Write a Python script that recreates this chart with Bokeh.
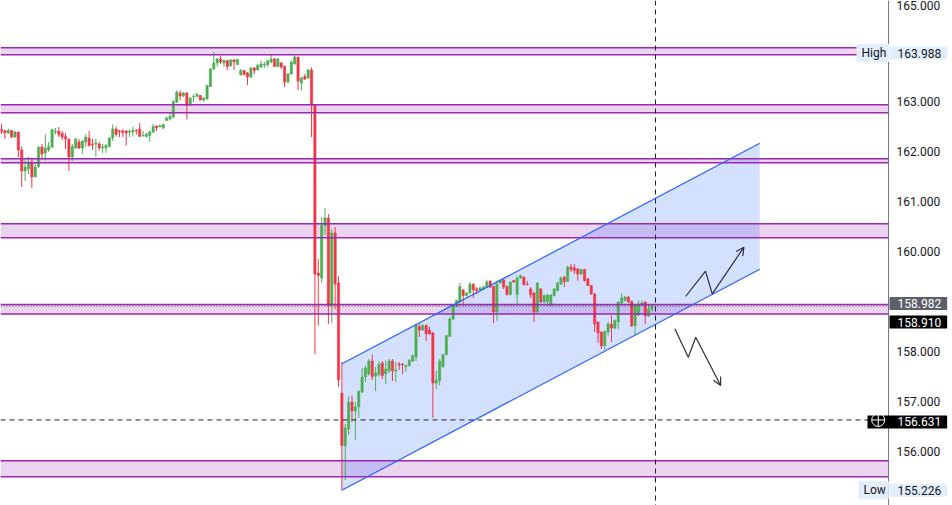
from bokeh.plotting import figure
from bokeh.models import Range1d, NumeralTickFormatter, FixedTicker, Label, Arrow, OpenHead, ColumnDataSource
from bokeh.embed import file_html
from bokeh.resources import INLINE

# ---------------- data ----------------
opens = [162.44,162.42,162.37,162.42,162.29,162.39,162.03,161.61,161.65,161.79,161.49,161.70,162.09,161.97,162.03,162.09,162.39,162.40,162.36,162.30,
         162.25,161.89,162.07,162.19,162.07,162.19,162.27,162.15,162.15,162.15,162.07,162.07,162.10,162.27,162.45,162.42,162.41,162.41,162.39,162.39,
         162.42,162.45,162.31,162.30,162.32,162.39,162.51,162.49,162.47,162.62,162.65,162.69,162.99,163.17,163.11,163.17,162.93,163.09,163.10,163.12,
         163.03,163.05,163.30,163.65,163.77,163.85,163.77,163.82,163.72,163.83,163.74,163.53,163.62,163.57,163.49,163.67,163.63,163.69,163.73,163.74,
         163.79,163.85,163.70,163.77,163.70,163.39,163.55,163.75,163.89,163.37,163.50,163.47,163.63,162.94,159.57,159.47,160.52,160.67,158.92,160.37,
         159.37,157.17,156.12,156.45,156.99,156.81,156.89,157.19,157.49,157.55,157.81,157.51,157.54,157.77,157.55,157.62,157.81,157.61,157.75,157.75,
         157.70,157.72,157.81,157.89,158.50,158.43,158.52,158.43,158.37,157.37,157.42,157.70,157.94,158.30,158.65,158.90,158.99,159.23,159.12,159.17,
         159.34,159.25,159.23,159.25,159.29,159.41,159.30,158.79,159.37,159.43,159.30,159.14,159.42,159.14,159.47,159.49,159.35,159.25,159.17,158.79,
         159.25,158.99,159.00,158.92,159.12,159.22,159.35,159.49,159.40,159.69,159.67,159.65,159.55,159.64,159.45,159.32,159.15,158.59,158.39,158.12,
         158.39,158.55,158.47,158.59,158.97,159.02,159.09,159.00,158.52,158.73,158.93,158.99,158.71,158.85]
highs = [162.55,162.42,162.45,162.43,162.41,162.39,162.10,161.82,161.89,161.85,161.77,162.10,162.15,162.34,162.19,162.45,162.47,162.49,162.41,162.37,
         162.25,162.15,162.27,162.25,162.23,162.34,162.41,162.25,162.25,162.19,162.15,162.15,162.29,162.54,162.50,162.43,162.45,162.43,162.44,162.50,
         162.45,162.57,162.41,162.37,162.42,162.55,162.52,162.54,162.56,162.70,162.79,163.02,163.22,163.22,163.19,163.19,163.09,163.15,163.17,163.13,
         163.09,163.33,163.67,163.988,163.87,163.92,163.84,163.83,163.85,163.85,163.85,163.65,163.63,163.59,163.69,163.69,163.75,163.82,163.79,163.83,
         163.94,163.87,163.87,163.79,163.72,163.57,163.82,163.92,163.89,163.50,163.55,163.65,163.68,162.94,159.85,160.69,160.87,160.75,160.45,160.49,
         159.50,157.79,156.55,157.10,157.12,156.99,157.23,157.67,157.72,157.85,157.94,157.69,157.81,157.81,157.82,157.85,157.85,157.79,157.79,157.77,
         157.74,157.85,157.94,158.55,158.55,158.55,158.54,158.50,158.39,157.62,157.85,157.95,158.33,158.69,158.95,159.03,159.37,159.25,159.19,159.39,
         159.37,159.29,159.30,159.32,159.43,159.42,159.32,159.42,159.45,159.45,159.32,159.41,159.43,159.50,159.54,159.50,159.41,159.29,159.19,159.39,
         159.27,159.14,159.15,159.15,159.27,159.40,159.50,159.51,159.72,159.75,159.75,159.67,159.65,159.65,159.47,159.33,159.17,158.60,158.40,158.42,
         158.59,158.72,158.64,159.00,159.17,159.11,159.11,159.02,158.93,159.02,159.02,159.00,158.95,158.92]
lows = [162.35,162.25,162.35,162.27,162.27,161.89,161.29,161.41,161.55,161.27,161.49,161.67,161.85,161.82,161.99,162.07,162.34,162.29,162.23,162.05,
        161.61,161.81,162.05,162.05,161.95,162.09,162.10,162.03,161.89,162.02,161.97,161.97,162.09,162.21,162.30,162.29,162.29,162.12,162.29,162.30,
        162.34,162.30,162.30,162.29,162.19,162.37,162.41,162.49,162.45,162.62,162.62,162.67,162.97,163.02,163.09,162.64,162.92,162.99,163.09,163.02,
        162.99,163.04,163.29,163.63,163.70,163.75,163.70,163.63,163.69,163.63,163.73,163.52,163.52,163.33,163.47,163.55,163.62,163.67,163.67,163.69,
        163.77,163.69,163.69,163.65,163.29,163.37,163.54,163.74,163.23,163.22,163.43,163.45,162.29,157.95,158.52,159.37,160.33,158.55,158.57,158.85,
        157.29,155.226,155.43,156.33,156.59,156.23,156.67,157.17,157.39,157.52,157.43,157.21,157.50,157.45,157.35,157.57,157.41,157.39,157.63,157.55,
        157.59,157.70,157.79,157.81,158.29,158.41,158.21,158.34,156.67,157.25,157.32,157.67,157.92,158.29,158.63,158.89,158.97,158.92,159.10,159.15,
        159.07,159.15,159.21,159.23,159.27,159.27,158.57,158.61,159.35,159.25,159.12,159.12,159.37,158.95,159.45,159.32,159.32,159.07,158.59,158.77,
        158.97,158.97,158.95,158.90,159.10,159.20,159.33,159.29,159.39,159.59,159.55,159.42,159.53,159.40,159.31,159.13,158.39,158.17,158.05,158.04,
        158.32,158.19,158.44,158.45,158.95,159.00,158.97,158.49,158.33,158.71,158.92,158.55,158.69,158.80]
closes = [162.40,162.37,162.42,162.29,162.39,162.03,161.61,161.69,161.79,161.49,161.69,162.09,161.95,162.07,162.10,162.44,162.41,162.34,162.29,162.25,
          161.89,162.10,162.25,162.07,162.21,162.29,162.12,162.14,162.17,162.07,162.09,162.12,162.27,162.45,162.34,162.40,162.38,162.37,162.41,162.42,
          162.41,162.30,162.32,162.35,162.39,162.50,162.47,162.52,162.54,162.67,162.70,163.00,163.19,163.11,163.17,162.92,163.07,163.10,163.14,163.03,
          163.07,163.32,163.65,163.77,163.85,163.79,163.82,163.70,163.83,163.79,163.84,163.62,163.54,163.49,163.67,163.62,163.72,163.75,163.75,163.81,
          163.85,163.70,163.85,163.69,163.39,163.55,163.79,163.89,163.41,163.47,163.45,163.63,162.94,159.55,159.52,160.52,160.67,158.92,160.37,159.35,
          157.43,156.12,156.47,156.99,156.81,156.89,157.20,157.49,157.67,157.81,157.50,157.57,157.74,157.52,157.65,157.81,157.61,157.63,157.73,157.74,
          157.72,157.82,157.92,158.53,158.43,158.52,158.35,158.35,157.37,157.43,157.81,157.94,158.32,158.65,158.92,159.02,159.30,159.12,159.17,159.35,
          159.23,159.22,159.27,159.29,159.39,159.29,158.79,159.35,159.42,159.29,159.14,159.39,159.39,159.47,159.52,159.34,159.34,159.14,158.79,159.37,
          158.99,159.12,159.13,159.13,159.25,159.37,159.47,159.40,159.69,159.64,159.62,159.55,159.64,159.42,159.32,159.15,158.55,158.37,158.11,158.40,
          158.55,158.47,158.62,158.99,159.07,159.09,158.99,158.51,158.92,158.95,158.97,158.71,158.85,158.91]

zone_bottom = [163.934, 162.774, 161.774, 160.274, 158.75, 155.494]
zone_top = [164.074, 162.934, 161.854, 160.554, 158.94, 155.814]

channel_bars = [101, 225]
channel_lower = [155.226, 159.646]
channel_upper = [157.754, 162.166]

up_path_bars = [203.0, 208.9, 210.9, 220.3]
up_path_prices = [159.10, 159.606, 159.154, 160.086]
down_path_bars = [199.8, 203.8, 206.0, 213.4]
down_path_prices = [158.454, 157.886, 158.286, 157.32]

axis_ticks = [156, 157, 158, 160, 161, 162, 163, 165]

high_price = 163.988
low_price = 155.226
last_price = 158.910
level_price = 158.982
cross_price = 156.631
cross_bar = 194

UP = "#4caf50"
DOWN = "#f23645"
PURPLE = "#9c27b0"
BLUE = "#2962ff"
INK = "#131722"

# ---------------- layout constants (bar-index units) ----------------
X_START = -0.297          # left edge of the picture
SCALE_X = 263.2           # where the price scale begins
X_END = 282.19            # right edge of the picture

p = figure(frame_width=952, frame_height=505,
           x_range=Range1d(X_START, X_END), y_range=Range1d(154.92, 165.02),
           output_backend="svg", toolbar_location=None,
           x_axis_location=None, y_axis_location="right",
           min_border_left=0, min_border_top=0, min_border_bottom=0, min_border_right=0,
           background_fill_color="white", border_fill_color="white", outline_line_color=None)
p.grid.visible = False

ax = p.yaxis[0]
ax.ticker = FixedTicker(ticks=axis_ticks)
ax.formatter = NumeralTickFormatter(format="0.000")
ax.major_tick_out = 0
ax.major_tick_in = 0
ax.minor_tick_out = 0
ax.minor_tick_in = 0
ax.axis_line_color = None
ax.major_label_text_font = "Roboto"
ax.major_label_text_font_size = "12px"
ax.major_label_text_color = INK
ax.major_label_standoff = -56   # labels sit on the price-scale strip

# price scale separator
p.vspan(x=[SCALE_X], line_color="#787b86", line_width=1)

# zones (fill)
p.quad(left=X_START, right=SCALE_X, bottom=zone_bottom, top=zone_top,
       fill_color=PURPLE, fill_alpha=0.2, line_color=None)

# channel fill
p.varea(x=channel_bars, y1=channel_lower, y2=channel_upper, fill_color=BLUE, fill_alpha=0.2)

# candles
bars = list(range(len(opens)))
colors = [UP if c >= o else DOWN for o, c in zip(opens, closes)]
src = ColumnDataSource(dict(
    x=bars, h=highs, l=lows,
    top=[max(o, c) for o, c in zip(opens, closes)],
    bottom=[min(o, c) for o, c in zip(opens, closes)],
    color=colors))
p.segment(x0="x", y0="h", x1="x", y1="l", line_color="color", line_width=1, source=src)
p.vbar(x="x", width=0.66, top="top", bottom="bottom", fill_color="color",
       line_color="color", line_width=0.6, source=src)

# zone edges
edges = zone_bottom + zone_top
p.segment(x0=X_START, x1=SCALE_X, y0=edges, y1=edges, line_color=PURPLE, line_width=1.6)

# channel lines
p.line(x=channel_bars, y=channel_lower, line_color=BLUE, line_width=1.2)
p.line(x=channel_bars, y=channel_upper, line_color=BLUE, line_width=1.2)

# last price dotted line
p.segment(x0=X_START, x1=SCALE_X, y0=last_price, y1=last_price,
          line_color="#333333", line_width=1.2, line_dash="1 2")

# crosshair
p.vspan(x=[cross_bar], line_color="#222222", line_width=1, line_dash="5 4")
p.segment(x0=X_START, x1=SCALE_X, y0=cross_price, y1=cross_price,
          line_color="#222222", line_width=1, line_dash="5 4")

# zigzag arrows
for xs, ys in ((up_path_bars, up_path_prices), (down_path_bars, down_path_prices)):
    p.line(x=xs[:-1], y=ys[:-1], line_color="#2a2e39", line_width=1.2)
    p.add_layout(Arrow(end=OpenHead(size=8, line_color="#2a2e39", line_width=1.2),
                       x_start=xs[-2], y_start=ys[-2], x_end=xs[-1], y_end=ys[-1],
                       line_color="#2a2e39", line_width=1.2))

# price tags (x = left edge of the tag box; padding = left, right, top, bottom)
VAL_X = 263.5
def tag(x, y, text, bg, fg, pad=(8, 6, 2, 2), yoff=0):
    kw = dict(x=x, y=y, text=text, text_font="Roboto", text_font_size="12px",
              text_color=fg, text_align="left", text_baseline="middle",
              background_fill_color=bg, y_offset=yoff)
    try:
        lab = Label(padding=pad, **kw)
    except Exception:
        lab = Label(**kw)
    p.add_layout(lab)

LIGHT = "#e3eefc"
tag(253.7, high_price, "High", LIGHT, INK, pad=(5, 3, 2, 2), yoff=-1)
tag(VAL_X, high_price, f"{high_price:.3f}", LIGHT, INK, yoff=-1)
tag(254.3, low_price, "Low", LIGHT, INK, pad=(5, 3, 2, 2))
tag(VAL_X, low_price, f"{low_price:.3f}", LIGHT, INK)
tag(VAL_X, level_price, f"{level_price:.3f}", "#5d606b", "white", yoff=-1)
tag(VAL_X, last_price, f"{last_price:.3f}", "#000000", "white", yoff=-16)
tag(256.97, cross_price, f"{cross_price:.3f}", "#000000", "white", pad=(30, 6, 2, 2), yoff=-2)
p.scatter(x=[260.15], y=[cross_price], marker="circle_cross", size=13, line_color="white",
          fill_color=None, line_width=1, level="overlay")

open("out.html", "w").write(file_html(p, INLINE))
